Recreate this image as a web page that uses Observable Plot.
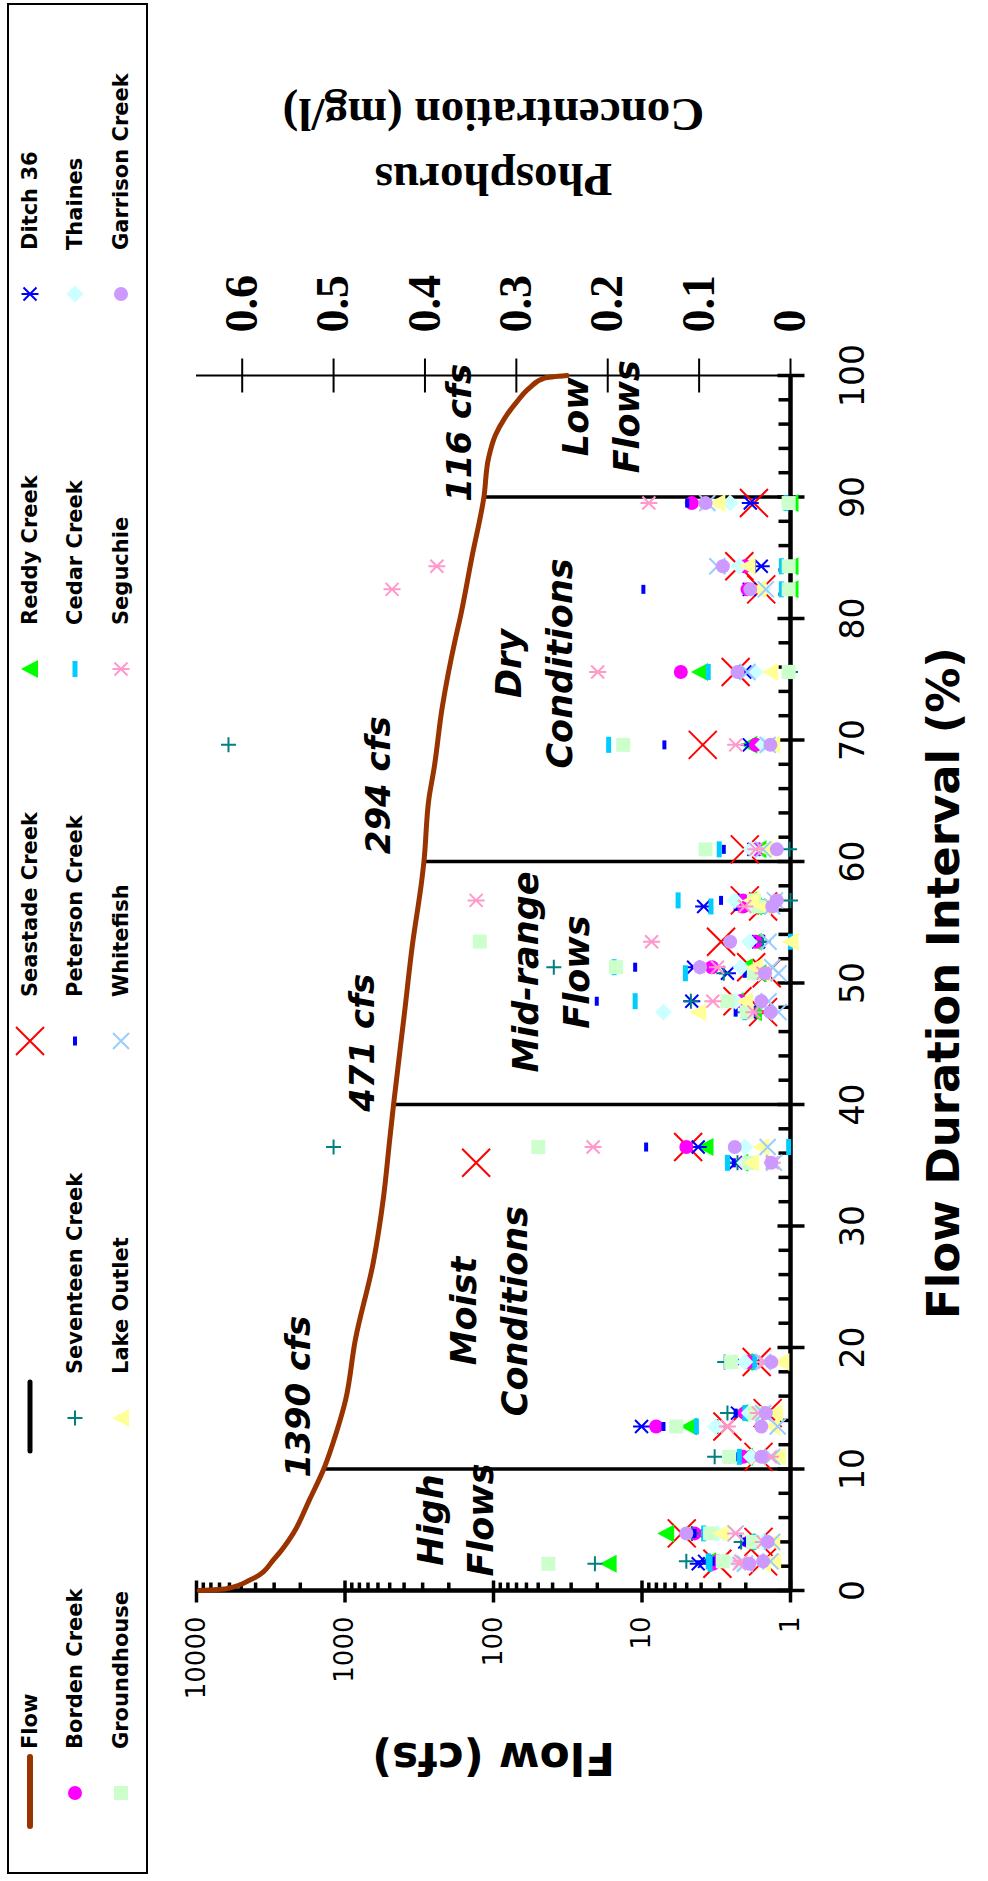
<!DOCTYPE html>
<html><head><meta charset="utf-8">
<script src="https://cdn.jsdelivr.net/npm/d3@7"></script>
<script src="https://cdn.jsdelivr.net/npm/@observablehq/plot@0.6"></script>
<style>
html,body{margin:0;padding:0;background:#fff;width:988px;height:1881px;overflow:hidden;}
#rot{position:absolute;left:0;top:0;width:1881px;height:988px;transform-origin:0 0;transform:translate(0px,1881px) rotate(-90deg);background:#fff;}
#legend{position:absolute;left:7px;top:7px;width:1871px;height:141px;}
#chart{position:absolute;left:0;top:150px;}
</style></head><body>
<div id="rot"><div id="legend"></div><div id="chart"></div></div>
<script>
// ---------- DATA ----------
// Flow duration curve
const flowPct = [0, 0.15, 0.9, 2.7, 4.7, 7.4, 10, 12.9, 15.7, 20.6, 27, 32.4, 37.1, 40, 47.6, 53.1, 58.6, 60, 65.2, 67.7, 72.6, 78.4, 80, 85, 90, 93.2, 95.1, 96.5, 97.9, 99, 99.8, 100];
const flowCfs = [9600, 6300, 4300, 2950, 2230, 1745, 1390, 1150, 990, 853, 645, 550, 500, 471, 397, 352, 303, 294, 272, 251, 222, 180, 168, 140, 116, 108, 97, 84, 69, 57, 45, 32];

// Zone boundaries
const boundaryPct = [10, 40, 60, 90];
const boundaryCfs = [1390, 471, 294, 116];
const boundaryText = ["1390 cfs", "471 cfs", "294 cfs", "116 cfs"];
const boundaryTextPct = [9.3, 39.4, 60.6, 89.6];
const boundaryTextCfs = [1730, 640, 499, 142];

// Zone names
const zoneText = ["High\nFlows", "Moist\nConditions", "Mid-range\nFlows", "Dry\nConditions", "Low\nFlows"];
const zonePct = [5.8, 23.0, 50.9, 76.3, 96.6];
const zoneCfs = [191, 114, 43.6, 56.7, 20];

// Ticks
const flowTicks = [1, 10, 100, 1000, 10000];
const pctTicks = [0, 10, 20, 30, 40, 50, 60, 70, 80, 90, 100];
const pTicks = [0, 0.1, 0.2, 0.3, 0.4, 0.5, 0.6];

// Sample dates (flow duration %) and phosphorus (mg/l) per site
const samplePct = [2.2, 2.4, 4.0, 4.7, 11.0, 13.5, 14.6, 18.8, 35.2, 36.5, 47.6, 48.5, 50.8, 51.3, 53.4, 56.3, 56.8, 61.0, 69.6, 75.6, 82.4, 84.3, 89.5];
const seastadeP   = [0.080, 0.030, 0.035, 0.119, 0.035, 0.069, 0.025, 0.037, 0.344, 0.112, 0.030, 0.058, 0.026, 0.043, 0.076, 0.030, 0.050, 0.050, 0.096, 0.060, 0.032, 0.056, 0.040];
const reddyP      = [0.199, 0.090, 0.048, 0.136, 0.050, 0.111, 0.055, 0.050, 0.055, 0.093, 0.040, 0.060, 0.035, 0.050, 0.040, 0.040, 0.045, 0.035, 0.045, 0.099, 0.000, 0.000, 0.000];
const ditch36P    = [0.101, 0.094, 0.050, 0.101, 0.060, 0.163, 0.058, 0.055, 0.060, 0.101, 0.045, 0.108, 0.069, 0.106, 0.035, 0.095, 0.050, 0.040, 0.045, 0.050, 0.045, 0.032, 0.044];
const bordenP     = [0.085, 0.080, 0.045, 0.105, 0.052, 0.147, 0.050, 0.045, 0.050, 0.114, 0.045, 0.055, 0.040, 0.086, 0.038, 0.052, 0.052, 0.037, 0.038, 0.120, 0.047, 0.050, 0.108];
const seventeenP  = [0.214, 0.114, 0.054, 0.108, 0.083, 0.080, 0.069, 0.072, 0.058, 0.500, 0.050, 0.109, 0.073, 0.259, 0.030, 0.030, 0.000, 0.001, 0.615, 0.000, null, null, null];
const petersonP   = [0.090, 0.085, 0.050, 0.105, 0.058, 0.139, 0.060, 0.060, 0.062, 0.158, 0.060, 0.212, 0.050, 0.170, 0.040, 0.060, 0.076, 0.073, 0.138, 0.003, 0.161, 0.040, 0.113];
const cedarP      = [0.088, 0.090, 0.040, 0.095, 0.056, 0.103, 0.050, 0.039, 0.069, 0.002, 0.050, 0.170, 0.115, 0.193, 0.000, 0.087, 0.123, 0.078, 0.199, 0.090, 0.010, 0.010, 0.005];
const thainesP    = [0.056, 0.060, 0.030, 0.080, 0.043, 0.082, 0.045, 0.050, 0.050, 0.050, 0.139, 0.060, 0.035, 0.054, 0.045, 0.040, 0.061, 0.043, 0.030, 0.039, 0.030, 0.056, 0.066];
const groundhouseP= [0.265, 0.074, 0.041, 0.088, 0.067, 0.125, 0.039, 0.065, 0.045, 0.276, 0.048, 0.069, 0.040, 0.191, 0.340, 0.035, 0.040, 0.093, 0.183, 0.002, 0.002, 0.002, 0.002];
const lakeOutletP = [0.030, 0.019, 0.020, 0.076, 0.014, 0.020, 0.017, 0.010, 0.043, 0.032, 0.101, 0.050, 0.030, 0.039, 0.000, 0.030, 0.043, 0.028, 0.020, 0.022, 0.035, 0.047, 0.080];
const whitefishP  = [0.050, 0.022, 0.020, 0.060, 0.020, 0.014, 0.030, 0.030, 0.018, 0.025, 0.013, 0.024, 0.013, 0.020, 0.024, 0.020, 0.017, 0.030, 0.025, 0.047, 0.027, 0.080, 0.091];
const seguchieP   = [0.056, 0.054, 0.030, 0.060, 0.022, 0.069, 0.035, 0.028, 0.020, 0.216, 0.040, 0.085, 0.030, 0.080, 0.152, 0.050, 0.344, 0.038, 0.060, 0.211, 0.436, 0.387, 0.155];
const garrisonP   = [0.045, 0.030, 0.025, 0.114, 0.032, 0.032, 0.027, 0.021, 0.021, 0.061, 0.022, 0.032, 0.028, 0.099, 0.066, 0.020, 0.015, 0.015, 0.022, 0.058, 0.044, 0.074, 0.093];

const siteNames = ["Seastade Creek", "Reddy Creek", "Ditch 36", "Borden Creek", "Seventeen Creek", "Peterson Creek", "Cedar Creek", "Thaines", "Groundhouse", "Lake Outlet", "Whitefish", "Seguchie", "Garrison Creek"];
const siteValues = [seastadeP, reddyP, ditch36P, bordenP, seventeenP, petersonP, cedarP, thainesP, groundhouseP, lakeOutletP, whitefishP, seguchieP, garrisonP];

// ---------- STYLE ----------
const P_MAX = 0.65;
const pToY = p => Math.pow(10, 4 * p / P_MAX);
const SANS = "'DejaVu Sans', sans-serif";
const SERIF = "'Liberation Serif', 'DejaVu Serif', serif";

const seg = (pts) => ({draw(c){ for (let k = 0; k < pts.length; k += 4){ c.moveTo(pts[k], pts[k+1]); c.lineTo(pts[k+2], pts[k+3]); } }});
const SYM = {
  timesBig: seg([-14,-14,14,14,-14,14,14,-14]),
  timesSmall: seg([-8,-8,8,8,-8,8,8,-8]),
  star: seg([0,-8.5,0,8.5,-6.5,-6.5,6.5,6.5,-6.5,6.5,6.5,-6.5]),
  plus: seg([-7.5,0,7.5,0,0,-7.5,0,7.5]),
  tri: {draw(c){ c.moveTo(0,-9); c.lineTo(9,8); c.lineTo(-9,8); c.closePath(); }},
  diamond: {draw(c){ const h=8.5; c.moveTo(0,-h); c.lineTo(h,0); c.lineTo(0,h); c.lineTo(-h,0); c.closePath(); }},
  square: {draw(c){ c.rect(-7,-7,14,14); }},
  circle: {draw(c){ c.moveTo(7,0); c.arc(0,0,7,0,2*Math.PI); }},
  dashS: {draw(c){ c.rect(-4.5,-2,9,4); }},
  dashL: {draw(c){ c.rect(-8,-2.5,16,5); }}
};
// [symbol, color, stroked?]
const siteStyle = [
  [SYM.timesBig, "#FF0000", true],
  [SYM.tri, "#00FF00", false],
  [SYM.star, "#0000FF", true],
  [SYM.circle, "#FF00FF", false],
  [SYM.plus, "#008080", true],
  [SYM.dashS, "#0000FF", false],
  [SYM.dashL, "#00CCFF", false],
  [SYM.diamond, "#CCFFFF", false],
  [SYM.square, "#CCFFCC", false],
  [SYM.tri, "#FFFF99", false],
  [SYM.timesSmall, "#99CCFF", true],
  [SYM.star, "#FF99CC", true],
  [SYM.circle, "#CC99FF", false]
];

const TICK = {
  flowMajor: seg([-12,0,10,0]),
  flowMinor: seg([0,0,8,0]),
  pctMajor: seg([0,-13,0,14]),
  pctMinor: seg([0,-12,0,0]),
  pMajor: seg([-17,0,17,0])
};

// ---------- BUILD ----------
const flowRows = flowPct.map((pct, i) => ({pct, cfs: flowCfs[i]}));
const boundaryRows = boundaryPct.map((pct, i) => ({pct, cfs: boundaryCfs[i]}));
const boundaryTextRows = boundaryText.map((t, i) => ({t, pct: boundaryTextPct[i], cfs: boundaryTextCfs[i]}));
const zoneRows = zoneText.map((t, i) => ({t, pct: zonePct[i], cfs: zoneCfs[i]}));
const flowMinor = [];
for (const dec of [1, 10, 100, 1000]) for (let m = 2; m <= 9; m++) flowMinor.push(dec * m);
const pctMinor = [];
for (let v = 0; v < 100; v += 2) if (v % 10 !== 0) pctMinor.push(v);

const siteMarks = siteValues.map((vals, i) => {
  const rows = samplePct.map((pct, j) => ({pct, p: vals[j]})).filter(d => d.p != null);
  const [symbol, color, stroked] = siteStyle[i];
  return Plot.dot(rows, {
    x: "pct", y: d => pToY(d.p), symbol, r: 5,
    fill: stroked ? "none" : color,
    stroke: stroked ? color : "none",
    strokeWidth: stroked ? 2 : 0
  });
});

const chart = Plot.plot({
  width: 1881, height: 838,
  marginTop: 46, marginBottom: 198, marginLeft: 290, marginRight: 376,
  style: {fontFamily: SANS, background: "white", overflow: "visible"},
  x: {domain: [0, 100], axis: null},
  y: {type: "log", domain: [1, 10000], axis: null},
  marks: [
    // axis lines
    Plot.ruleX([100], {stroke: "black", strokeWidth: 2}),
    Plot.ruleY([1], {stroke: "black", strokeWidth: 4.5}),
    Plot.ruleX([0], {stroke: "black", strokeWidth: 4.5}),
    // ticks
    Plot.dot(flowTicks, {x: () => 0, y: d => d, symbol: TICK.flowMajor, r: 1, stroke: "black", strokeWidth: 3.5, fill: "none"}),
    Plot.dot(flowMinor, {x: () => 0, y: d => d, symbol: TICK.flowMinor, r: 1, stroke: "black", strokeWidth: 3.5, fill: "none"}),
    Plot.dot(pctTicks, {x: d => d, y: () => 1, symbol: TICK.pctMajor, r: 1, stroke: "black", strokeWidth: 3.5, fill: "none"}),
    Plot.dot(pctMinor, {x: d => d, y: () => 1, symbol: TICK.pctMinor, r: 1, stroke: "black", strokeWidth: 3.5, fill: "none"}),
    Plot.dot(pTicks, {x: () => 100, y: d => pToY(d), symbol: TICK.pMajor, r: 1, stroke: "black", strokeWidth: 2, fill: "none"}),
    // tick labels
    Plot.text(flowTicks, {x: () => 0, y: d => d, text: d => String(d), textAnchor: "end", dx: -26, fontSize: 26, fill: "black"}),
    Plot.text(pctTicks, {x: d => d, y: () => 1, text: d => String(d), dy: 63, fontSize: 33, fill: "black"}),
    Plot.text(pTicks, {x: () => 100, y: d => pToY(d), text: d => d === 0 ? "0" : d.toFixed(1), textAnchor: "start", dx: 43, fontSize: 46, fontWeight: "bold", fontFamily: SERIF, fill: "black"}),
    // titles
    Plot.text(["Flow Duration Interval (%)"], {text: d => d, frameAnchor: "bottom", textAnchor: "middle", dy: 168, fontSize: 45, fontWeight: "bold", fill: "black"}),
    Plot.text(["Flow (cfs)"], {text: d => d, frameAnchor: "left", textAnchor: "middle", dx: -167, rotate: -90, fontSize: 44, fontWeight: "bold", fill: "black"}),
    Plot.text(["Phosphorus\nConcentration (mg/l)"], {text: d => d, frameAnchor: "right", textAnchor: "middle", dx: 223, rotate: -90, fontSize: 47, fontWeight: "bold", fontFamily: SERIF, lineHeight: 1.4, fill: "black"}),
    // flow curve and boundaries
    Plot.ruleX(boundaryRows, {x: "pct", y1: "cfs", y2: () => 1, stroke: "black", strokeWidth: 3.5}),
    Plot.line(flowRows, {x: "pct", y: "cfs", stroke: "#993300", strokeWidth: 5, curve: "monotone-x"}),
    // annotations
    Plot.text(boundaryTextRows, {x: "pct", y: "cfs", text: "t", textAnchor: "start", lineAnchor: "bottom", fontSize: 34, fontWeight: "bold", fontStyle: "italic", fill: "black"}),
    Plot.text(zoneRows, {x: "pct", y: "cfs", text: "t", fontSize: 35, fontWeight: "bold", fontStyle: "italic", lineHeight: 1.45, fill: "black"}),
    // data
    ...siteMarks
  ]
});
document.getElementById("chart").appendChild(chart);

// ---------- LEGEND ----------
const lg = d3.select("#legend").append("svg").attr("width", 1871).attr("height", 141).style("font-family", SANS);
lg.append("rect").attr("x", 1).attr("y", 1).attr("width", 1869).attr("height", 139).attr("fill", "white").attr("stroke", "black").attr("stroke-width", 2);
const colX = [81, 456, 833, 1205, 1580];
const rowY = [23, 68, 114];
const legendEntries = [
  {label: "Flow", line: "#993300", w: 6},
  {label: "", line: "black", w: 5},
  {site: 0}, {site: 1}, {site: 2},
  {site: 3}, {site: 4}, {site: 5}, {site: 6}, {site: 7},
  {site: 8}, {site: 9}, {site: 10}, {site: 11}, {site: 12}
];
legendEntries.forEach((e, k) => {
  const cx = colX[k % 5], cy = rowY[Math.floor(k / 5)];
  let label = e.label;
  if (e.line) {
    lg.append("line").attr("x1", cx - 33).attr("x2", cx + 36).attr("y1", cy).attr("y2", cy)
      .attr("stroke", e.line).attr("stroke-width", e.w).attr("stroke-linecap", "round");
  } else {
    const [symbol, color, stroked] = siteStyle[e.site];
    lg.append("path").attr("d", d3.symbol().type(symbol)()).attr("transform", `translate(${cx},${cy})`)
      .attr("fill", stroked ? "none" : color).attr("stroke", stroked ? color : "none").attr("stroke-width", 2);
    label = siteNames[e.site];
  }
  if (label) lg.append("text").attr("x", cx + 44).attr("y", cy).attr("dominant-baseline", "central")
    .attr("font-size", 21).attr("font-weight", "bold").attr("fill", "black").text(label);
});
</script>
</body></html>
